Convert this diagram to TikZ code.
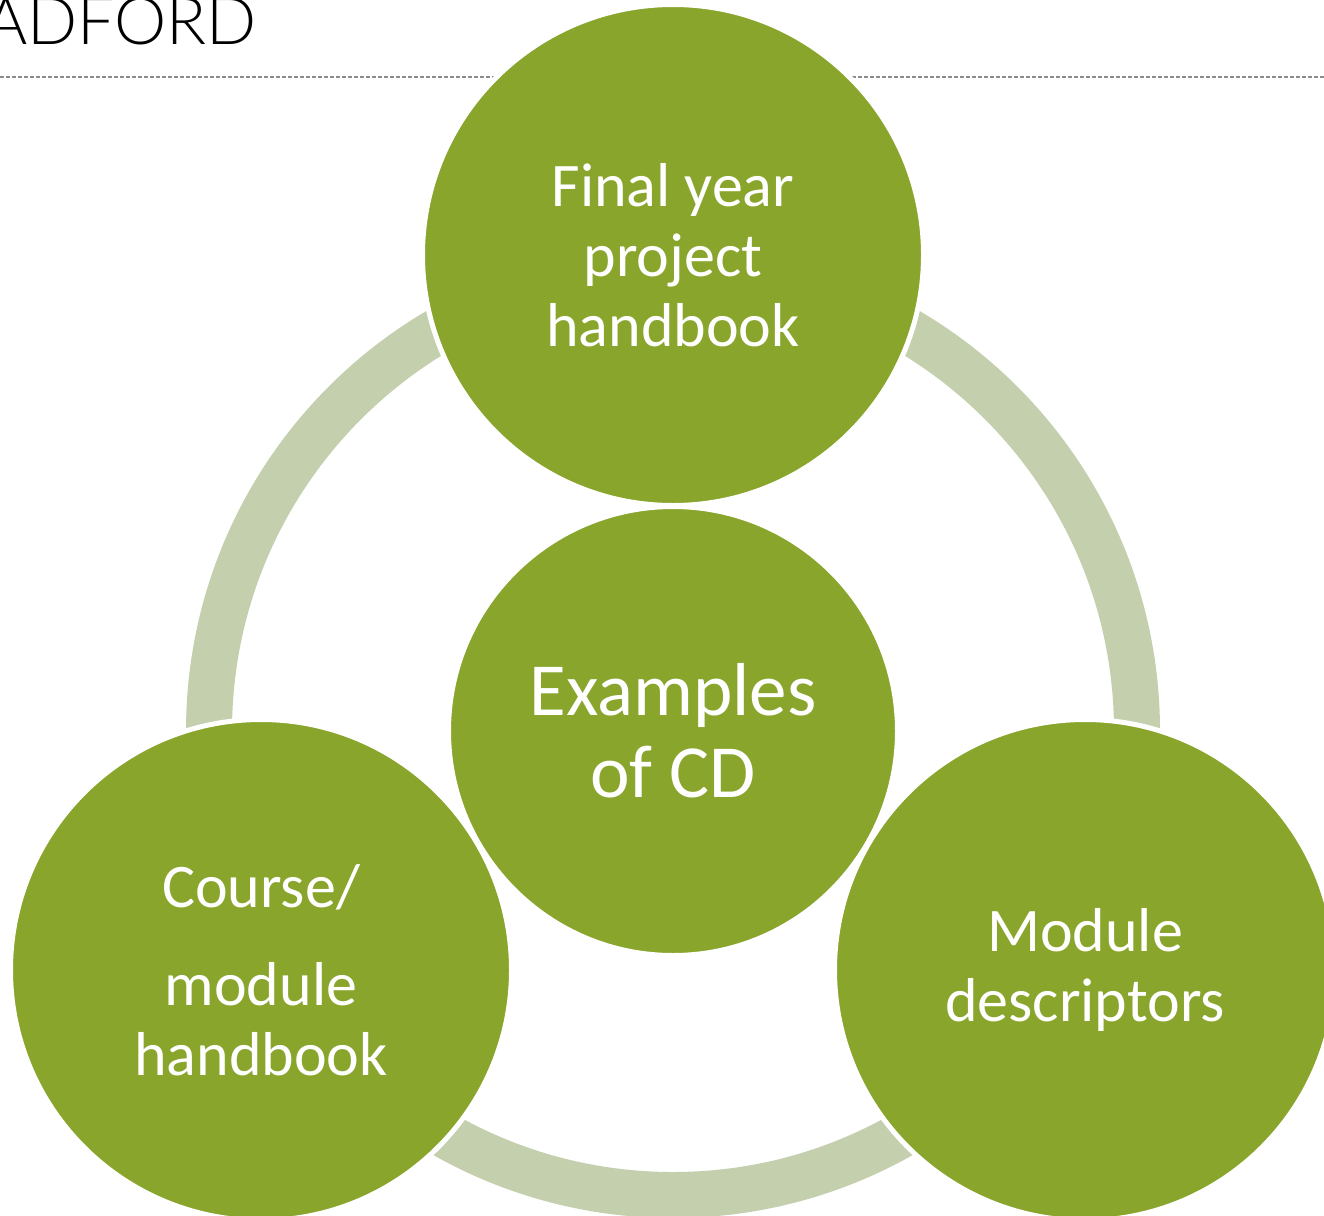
\documentclass[tikz,border=0pt]{standalone}
\usepackage{fontspec}
\setmainfont{Carlito}
\newfontfamily\headfont{Lato Light}
\usetikzlibrary{positioning}
\definecolor{cdgreen}{RGB}{137,165,44}
\definecolor{ringgreen}{RGB}{196,207,174}
\definecolor{rulegray}{RGB}{140,140,140}

\begin{document}
\begin{tikzpicture}[x=1pt, y=-1pt, on grid,
    bubble/.style={circle, fill=cdgreen, draw=white, line width=5pt, minimum size=501pt,
      text=white, align=center, inner sep=0pt, font=\fontsize{62}{70}\selectfont},
    hubble/.style={bubble, minimum size=449pt, font=\fontsize{75}{82}\selectfont}]
  \useasboundingbox (0,0) rectangle (1324,1215);
  \clip (0,0) rectangle (1324,1215);
  % header
  \node[anchor=base east, inner sep=0pt, font=\headfont\fontsize{66}{66}\selectfont] (title) at (257,45) {ADFORD};
  \coordinate (ruleL) at (0,77);
  \coordinate (ruleR) at (1324,77);
  \draw[rulegray, line width=1.3pt, dash pattern=on 4pt off 2pt] (ruleL) -- (ruleR);
  % ring
  \coordinate (mid) at (673,731);
  \draw[ringgreen, line width=46pt] (mid) circle[radius=464];
  % bubbles
  \node[hubble] (examples) at (mid) {Examples\\of CD};
  \node[bubble] (fyp) [above=476pt of examples] {Final year\\project\\handbook};
  \node[bubble] (course) [below left=239pt and 412pt of examples] {Course/\\[28pt]module\\handbook};
  \node[bubble] (modules) [below right=239pt and 412pt of examples] {Module\\descriptors};
\end{tikzpicture}
\end{document}
